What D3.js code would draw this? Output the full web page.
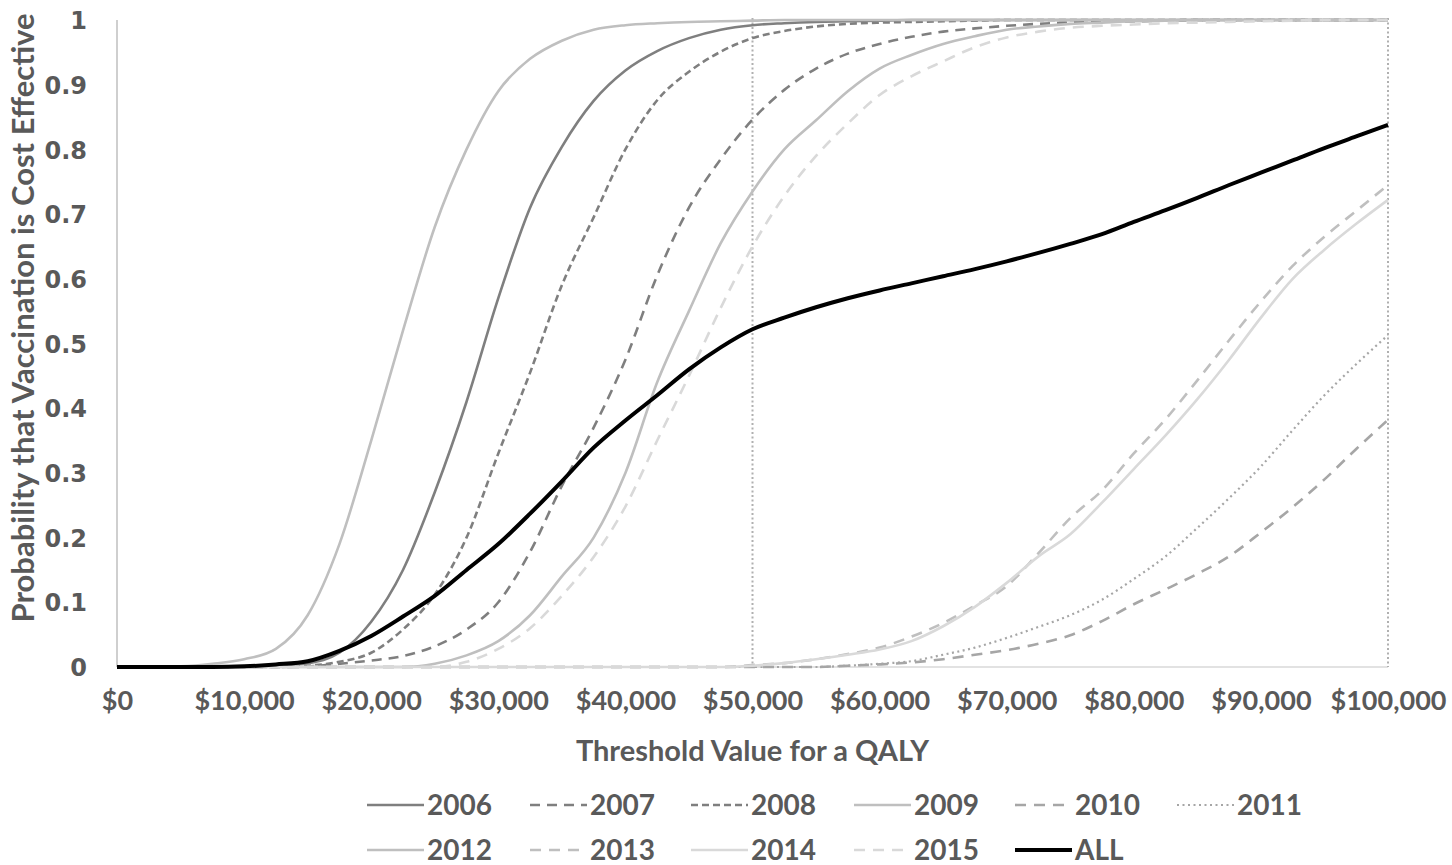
<!DOCTYPE html>
<html>
<head>
<meta charset="utf-8">
<script src="https://cdn.jsdelivr.net/npm/d3@7"></script>
<style>
  html, body { margin: 0; padding: 0; background: #fff; }
  svg { display: block; }
</style>
</head>
<body>
<svg id="chart" width="1452" height="865"></svg>
<script>
// Willingness-to-pay thresholds ($ per QALY)
const thresholds = [0, 2500, 5000, 7500, 10000, 12500, 15000, 17500, 20000, 22500,
  25000, 27500, 30000, 32500, 35000, 37500, 40000, 42500, 45000, 47500,
  50000, 52500, 55000, 57500, 60000, 62500, 65000, 67500, 70000, 72500,
  75000, 77500, 80000, 82500, 85000, 87500, 90000, 92500, 95000, 97500, 100000];

// Probability that vaccination is cost effective, per season
const s2006 = [0, 0, 0, 0, 0, 0.002, 0.006, 0.022, 0.07, 0.15,
  0.27, 0.41, 0.57, 0.71, 0.804, 0.875, 0.922, 0.952, 0.972, 0.985,
  0.992, 0.995, 0.997, 0.998, 0.999, 1, 1, 1, 1, 1,
  1, 1, 1, 1, 1, 1, 1, 1, 1, 1, 1];
const s2007 = [0, 0, 0, 0, 0, 0, 0.001, 0.005, 0.01, 0.017,
  0.032, 0.058, 0.1, 0.178, 0.28, 0.37, 0.475, 0.605, 0.71, 0.785,
  0.846, 0.892, 0.925, 0.948, 0.963, 0.974, 0.982, 0.987, 0.991, 0.994,
  0.996, 0.997, 0.998, 0.999, 1, 1, 1, 1, 1, 1, 1];
const s2008 = [0, 0, 0, 0, 0, 0, 0.002, 0.008, 0.022, 0.058,
  0.112, 0.2, 0.33, 0.455, 0.59, 0.695, 0.8, 0.876, 0.92, 0.951,
  0.972, 0.983, 0.99, 0.994, 0.996, 0.997, 0.998, 0.999, 1, 1,
  1, 1, 1, 1, 1, 1, 1, 1, 1, 1, 1];
const s2009 = [0, 0, 0.001, 0.005, 0.012, 0.028, 0.08, 0.19, 0.35, 0.52,
  0.68, 0.8, 0.89, 0.94, 0.968, 0.985, 0.992, 0.995, 0.997, 0.998,
  0.999, 1, 1, 1, 1, 1, 1, 1, 1, 1,
  1, 1, 1, 1, 1, 1, 1, 1, 1, 1, 1];
const s2010 = [0, 0, 0, 0, 0, 0, 0, 0, 0, 0,
  0, 0, 0, 0, 0, 0, 0, 0, 0, 0,
  0, 0, 0, 0.002, 0.004, 0.007, 0.012, 0.019, 0.026, 0.036,
  0.049, 0.071, 0.097, 0.12, 0.144, 0.171, 0.208, 0.247, 0.29, 0.337, 0.382];
const s2011 = [0, 0, 0, 0, 0, 0, 0, 0, 0, 0,
  0, 0, 0, 0, 0, 0, 0, 0, 0, 0,
  0, 0, 0, 0.002, 0.005, 0.009, 0.019, 0.03, 0.045, 0.062,
  0.08, 0.104, 0.136, 0.171, 0.215, 0.261, 0.31, 0.366, 0.42, 0.468, 0.513];
const s2012 = [0, 0, 0, 0, 0, 0, 0, 0, 0, 0,
  0.005, 0.018, 0.04, 0.08, 0.14, 0.2, 0.3, 0.44, 0.55, 0.655,
  0.735, 0.8, 0.845, 0.89, 0.925, 0.946, 0.963, 0.975, 0.985, 0.99,
  0.994, 0.996, 0.998, 0.999, 1, 1, 1, 1, 1, 1, 1];
const s2013 = [0, 0, 0, 0, 0, 0, 0, 0, 0, 0,
  0, 0, 0, 0, 0, 0, 0, 0, 0, 0,
  0.003, 0.006, 0.012, 0.02, 0.03, 0.047, 0.068, 0.095, 0.125, 0.176,
  0.23, 0.273, 0.33, 0.383, 0.443, 0.505, 0.565, 0.62, 0.665, 0.705, 0.745];
const s2014 = [0, 0, 0, 0, 0, 0, 0, 0, 0, 0,
  0, 0, 0, 0, 0, 0, 0, 0, 0, 0,
  0.002, 0.006, 0.012, 0.019, 0.027, 0.04, 0.063, 0.093, 0.13, 0.171,
  0.205, 0.254, 0.306, 0.358, 0.414, 0.475, 0.54, 0.6, 0.645, 0.685, 0.722];
const s2015 = [0, 0, 0, 0, 0, 0, 0, 0, 0, 0,
  0, 0.008, 0.028, 0.06, 0.11, 0.17, 0.248, 0.35, 0.45, 0.555,
  0.65, 0.728, 0.79, 0.84, 0.884, 0.913, 0.936, 0.958, 0.973, 0.982,
  0.988, 0.991, 0.993, 0.995, 0.996, 0.997, 0.998, 0.999, 1, 1, 1];
const sAll = [0, 0, 0, 0, 0.001, 0.004, 0.009, 0.025, 0.048, 0.078,
  0.11, 0.15, 0.19, 0.237, 0.287, 0.339, 0.381, 0.42, 0.46, 0.494,
  0.522, 0.54, 0.556, 0.57, 0.582, 0.593, 0.604, 0.615, 0.627, 0.64,
  0.654, 0.669, 0.688, 0.706, 0.725, 0.745, 0.764, 0.783, 0.802, 0.82, 0.838];

const seriesNames = ["2006", "2007", "2008", "2009", "2010", "2011",
  "2012", "2013", "2014", "2015", "ALL"];
const seriesValues = [s2006, s2007, s2008, s2009, s2010, s2011,
  s2012, s2013, s2014, s2015, sAll];

const yTicks = [0, 0.1, 0.2, 0.3, 0.4, 0.5, 0.6, 0.7, 0.8, 0.9, 1];
const xTicks = [0, 10000, 20000, 30000, 40000, 50000, 60000, 70000, 80000, 90000, 100000];
const markerLines = [50000, 100000];

// Line styles per series
const styles = {
  "2006": { color: "#7f7f7f", width: 2.6, dash: null },
  "2007": { color: "#7f7f7f", width: 2.6, dash: "10,7" },
  "2008": { color: "#7f7f7f", width: 2.6, dash: "7,4" },
  "2009": { color: "#bfbfbf", width: 2.6, dash: null },
  "2010": { color: "#a6a6a6", width: 2.6, dash: "11,8" },
  "2011": { color: "#a6a6a6", width: 2.2, dash: "2,3.5" },
  "2012": { color: "#bfbfbf", width: 2.6, dash: null },
  "2013": { color: "#bfbfbf", width: 2.6, dash: "11,8" },
  "2014": { color: "#d9d9d9", width: 2.6, dash: null },
  "2015": { color: "#d9d9d9", width: 2.6, dash: "11,8" },
  "ALL":  { color: "#000000", width: 4, dash: null }
};

const svg = d3.select("#chart");
const margin = { left: 117, right: 64, top: 20, bottom: 198 };
const W = 1452, H = 865;
const x = d3.scaleLinear().domain([0, 100000]).range([margin.left, W - margin.right]);
const y = d3.scaleLinear().domain([0, 1]).range([H - margin.bottom, margin.top]);

const textColor = "#595959";
const labelFont = "Lato, 'Open Sans', sans-serif";

// Axis lines
svg.append("line")
  .attr("x1", x(0)).attr("x2", x(0))
  .attr("y1", y(1)).attr("y2", y(0))
  .attr("stroke", "#bfbfbf").attr("stroke-width", 1.5);
svg.append("line")
  .attr("x1", x(0)).attr("x2", x(100000))
  .attr("y1", y(0)).attr("y2", y(0))
  .attr("stroke", "#d9d9d9").attr("stroke-width", 1.5);

// Y axis
const yAxis = d3.axisLeft(y).tickValues(yTicks).tickSize(0).tickPadding(0)
  .tickFormat(d => d === 0 || d === 1 ? String(d) : d3.format(".1f")(d));
const gy = svg.append("g").attr("transform", `translate(${margin.left - 30},0)`).call(yAxis);
gy.select(".domain").remove();
gy.selectAll("text")
  .attr("fill", textColor)
  .attr("font-family", "'DejaVu Sans', Verdana, sans-serif")
  .attr("font-weight", "bold")
  .attr("font-size", 24)
  .attr("dy", "0.36em");

// X axis
const xAxis = d3.axisBottom(x).tickValues(xTicks).tickSize(0).tickPadding(0)
  .tickFormat(d => "$" + d3.format(",")(d));
const gx = svg.append("g").attr("transform", `translate(0,${y(0) + 24})`).call(xAxis);
gx.select(".domain").remove();
gx.selectAll("text")
  .attr("fill", textColor)
  .attr("font-family", labelFont)
  .attr("font-weight", "bold")
  .attr("font-size", 27)
  .attr("dy", "0.71em");

// Axis titles
svg.append("text")
  .attr("x", (x(0) + x(100000)) / 2).attr("y", 761)
  .attr("text-anchor", "middle")
  .attr("fill", textColor)
  .attr("font-family", labelFont).attr("font-weight", "bold").attr("font-size", 29)
  .text("Threshold Value for a QALY");
svg.append("text")
  .attr("transform", "translate(34,318) rotate(-90)")
  .attr("text-anchor", "middle")
  .attr("fill", textColor)
  .attr("font-family", labelFont).attr("font-weight", "bold").attr("font-size", 31)
  .text("Probability that Vaccination is Cost Effective");

// Reference thresholds at $50,000 and $100,000
svg.selectAll("line.marker").data(markerLines).join("line")
  .attr("class", "marker")
  .attr("x1", d => x(d)).attr("x2", d => x(d))
  .attr("y1", y(1) - 2).attr("y2", y(0))
  .attr("stroke", "#b0b0b0").attr("stroke-width", 2)
  .attr("stroke-dasharray", "2,2.5");

// Series curves
const line = d3.line()
  .x((d, i) => x(thresholds[i]))
  .y(d => y(d))
  .curve(d3.curveMonotoneX);

svg.append("g").selectAll("path").data(seriesNames).join("path")
  .attr("d", (name, i) => line(seriesValues[i]))
  .attr("fill", "none")
  .attr("stroke", name => styles[name].color)
  .attr("stroke-width", name => styles[name].width)
  .attr("stroke-dasharray", name => styles[name].dash)
  .attr("stroke-linejoin", "round");

// Legend
const legendCols = [367, 530, 691, 854, 1015, 1177];
const legendRows = [805, 850];
const lg = svg.append("g");
seriesNames.forEach((name, i) => {
  const col = i % 6, row = Math.floor(i / 6);
  const lx = legendCols[col], ly = legendRows[row];
  const st = styles[name];
  lg.append("line")
    .attr("x1", lx).attr("x2", lx + 57)
    .attr("y1", ly).attr("y2", ly)
    .attr("stroke", st.color)
    .attr("stroke-width", st.width)
    .attr("stroke-dasharray", st.dash);
  lg.append("text")
    .attr("x", lx + 60).attr("y", ly)
    .attr("dy", "0.36em")
    .attr("fill", textColor)
    .attr("font-family", labelFont).attr("font-weight", "bold").attr("font-size", 28)
    .text(name);
});
</script>
</body>
</html>
